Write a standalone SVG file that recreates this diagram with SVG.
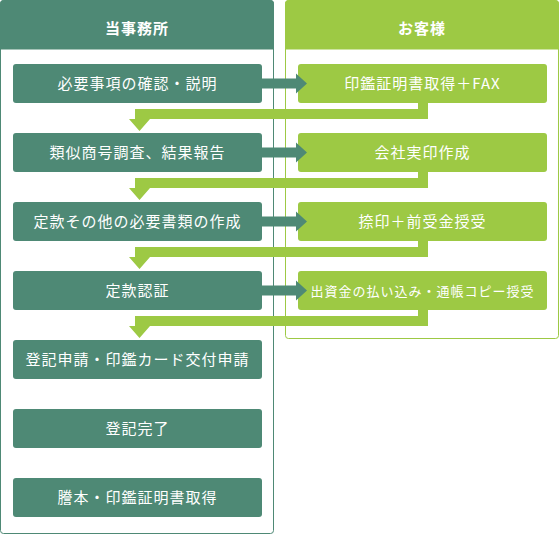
<svg xmlns="http://www.w3.org/2000/svg" width="560" height="535" viewBox="0 0 560 535">
<style>
.t{font-family:"Noto Sans CJK JP","Noto Sans",sans-serif;fill:#fff;text-anchor:middle;font-size:15px;letter-spacing:1px}
.h{font-weight:bold}
.s{font-size:13px}
.lb{fill:#4e8975}
.gb{fill:#9dc944}
</style>
<g id="panel-office">
<rect x="0.5" y="0.5" width="273" height="533" rx="3" fill="#fff" stroke="#4e8975"/>
<path d="M0.5,49 V3.5 A3,3 0 0 1 3.5,0.5 H270.5 A3,3 0 0 1 273.5,3.5 V49 Z" fill="#4e8975" stroke="#4e8975"/>
<text class="t h" x="137" y="34">当事務所</text>
</g>
<g id="panel-client">
<rect x="285.5" y="0.5" width="273" height="338" rx="3" fill="#fff" stroke="#9dc944"/>
<path d="M285.5,49 V3.5 A3,3 0 0 1 288.5,0.5 H555.5 A3,3 0 0 1 558.5,3.5 V49 Z" fill="#9dc944" stroke="#9dc944"/>
<text class="t h" x="422" y="34">お客様</text>
</g>
<g id="l1"><rect class="lb" x="13" y="64" width="249" height="39" rx="3"/><text class="t" x="137.5" y="89">必要事項の確認・説明</text></g>
<g id="l2"><rect class="lb" x="13" y="133" width="249" height="39" rx="3"/><text class="t" x="137.5" y="158">類似商号調査、結果報告</text></g>
<g id="l3"><rect class="lb" x="13" y="202" width="249" height="39" rx="3"/><text class="t" x="137.5" y="227">定款その他の必要書類の作成</text></g>
<g id="l4"><rect class="lb" x="13" y="271" width="249" height="39" rx="3"/><text class="t" x="137.5" y="296">定款認証</text></g>
<g id="l5"><rect class="lb" x="13" y="340" width="249" height="39" rx="3"/><text class="t" x="137.5" y="365">登記申請・印鑑カード交付申請</text></g>
<g id="l6"><rect class="lb" x="13" y="409" width="249" height="39" rx="3"/><text class="t" x="137.5" y="434">登記完了</text></g>
<g id="l7"><rect class="lb" x="13" y="478" width="249" height="39" rx="3"/><text class="t" x="137.5" y="503">謄本・印鑑証明書取得</text></g>
<g id="r1"><rect class="gb" x="298" y="64" width="249" height="39" rx="3"/><text class="t" x="422.5" y="89">印鑑証明書取得＋FAX</text></g>
<g id="r2"><rect class="gb" x="298" y="133" width="249" height="39" rx="3"/><text class="t" x="422.5" y="158">会社実印作成</text></g>
<g id="r3"><rect class="gb" x="298" y="202" width="249" height="39" rx="3"/><text class="t" x="422.5" y="227">捺印＋前受金授受</text></g>
<g id="r4"><rect class="gb" x="298" y="271" width="249" height="39" rx="3"/><text class="t s" x="422.5" y="295.5">出資金の払い込み・通帳コピー授受</text></g>
<g id="connectors">
<path class="lb" d="M262,78.5 H296 V73.5 L307,83.5 L296,93.5 V88.5 H262 Z"/>
<path class="lb" d="M262,147.5 H296 V142.5 L307,152.5 L296,162.5 V157.5 H262 Z"/>
<path class="lb" d="M262,216.5 H296 V211.5 L307,221.5 L296,231.5 V226.5 H262 Z"/>
<path class="lb" d="M262,285.5 H296 V280.5 L307,290.5 L296,300.5 V295.5 H262 Z"/>
<path class="gb" d="M418,102 H428 V119 H150 L139.5,131 L129,119 H135 V109 H418 Z"/>
<path class="gb" d="M418,171 H428 V188 H150 L139.5,200 L129,188 H135 V178 H418 Z"/>
<path class="gb" d="M418,240 H428 V257 H150 L139.5,269 L129,257 H135 V247 H418 Z"/>
<path class="gb" d="M418,309 H428 V326 H150 L139.5,338 L129,326 H135 V316 H418 Z"/>
</g>
</svg>
